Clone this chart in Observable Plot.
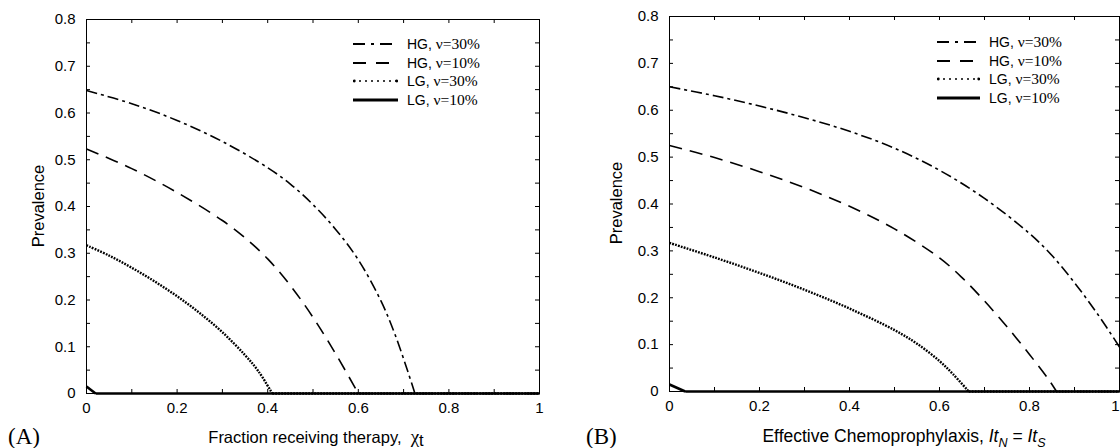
<!DOCTYPE html>
<html><head><meta charset="utf-8">
<script src="https://cdn.jsdelivr.net/npm/d3@7"></script>
<script src="https://cdn.jsdelivr.net/npm/@observablehq/plot@0.6"></script>
<style>
html,body{margin:0;padding:0;background:#fff;overflow:hidden}
#wrap{position:relative;width:1120px;height:448px;font-family:"Liberation Sans",Arial,sans-serif;color:#000}
.panel{position:absolute;top:0}
.panel svg{overflow:visible}
.panel svg text{font-size:15px !important;font-family:"Liberation Sans",Arial,sans-serif !important}
.abs{position:absolute;white-space:nowrap}
.serif{font-family:"Liberation Serif","Times New Roman",serif}
.leg{position:absolute;font-size:14px;line-height:18px}
.leg .row{position:absolute;left:0;height:18px;white-space:nowrap}
.leg svg{position:absolute;left:0;top:4px}
.leg .lab{position:absolute;top:0}
.ytitle{position:absolute;font-size:16.5px;transform:translate(-50%,-50%) rotate(-90deg)}
.xtitle{position:absolute;font-size:16.5px;transform:translate(-50%,-50%)}
.tag{position:absolute;font-size:23px;transform:translate(0,-50%)}
</style></head><body><div id="wrap"></div>
<script>
// ---------- data ----------
const xTickLabels = [0, 0.2, 0.4, 0.6, 0.8, 1];
const yTickLabels = [0, 0.1, 0.2, 0.3, 0.4, 0.5, 0.6, 0.7, 0.8];
const xMinorTicks = [0, 0.1, 0.2, 0.3, 0.4, 0.5, 0.6, 0.7, 0.8, 0.9, 1];
const yMinorTicks = [0, 0.05, 0.1, 0.15, 0.2, 0.25, 0.3, 0.35, 0.4, 0.45, 0.5, 0.55, 0.6, 0.65, 0.7, 0.75, 0.8];
const seriesNames = ["HG, |ν=30%", "HG, |ν=10%", "LG, |ν=30%", "LG, |ν=10%"];

// Panel A: Fraction receiving therapy
const xA_HG30 = [0, 0.1, 0.2, 0.3, 0.4, 0.45, 0.5, 0.55, 0.6, 0.65, 0.68, 0.71, 0.725, 1];
const yA_HG30 = [0.648, 0.620, 0.584, 0.539, 0.483, 0.448, 0.404, 0.351, 0.286, 0.198, 0.129, 0.045, 0, 0];
const xA_HG10 = [0, 0.1, 0.2, 0.3, 0.35, 0.4, 0.45, 0.5, 0.55, 0.6, 1];
const yA_HG10 = [0.523, 0.481, 0.430, 0.370, 0.333, 0.288, 0.231, 0.163, 0.085, 0, 0];
const xA_LG30 = [0, 0.05, 0.1, 0.15, 0.2, 0.25, 0.3, 0.35, 0.38, 0.41, 1];
const yA_LG30 = [0.317, 0.295, 0.269, 0.240, 0.208, 0.172, 0.131, 0.082, 0.047, 0, 0];
const xA_LG10 = [0, 0.02, 1];
const yA_LG10 = [0.015, 0, 0];

// Panel B: Effective chemoprophylaxis
const xB_HG30 = [0, 0.1, 0.2, 0.3, 0.4, 0.5, 0.6, 0.7, 0.8, 0.85, 0.9, 0.95, 1];
const yB_HG30 = [0.650, 0.631, 0.609, 0.584, 0.555, 0.519, 0.472, 0.412, 0.337, 0.290, 0.232, 0.167, 0.095];
const xB_HG10 = [0, 0.1, 0.2, 0.3, 0.4, 0.5, 0.6, 0.65, 0.7, 0.75, 0.8, 0.84, 0.86, 1];
const yB_HG10 = [0.525, 0.499, 0.469, 0.435, 0.395, 0.347, 0.285, 0.243, 0.193, 0.138, 0.079, 0.029, 0, 0];
const xB_LG30 = [0, 0.1, 0.2, 0.3, 0.4, 0.5, 0.55, 0.6, 0.63, 0.665, 1];
const yB_LG30 = [0.317, 0.286, 0.253, 0.217, 0.177, 0.131, 0.102, 0.065, 0.037, 0, 0];
const xB_LG10 = [0, 0.035, 1];
const yB_LG10 = [0.015, 0, 0];

// ---------- styles ----------
const styles = [
  {dash: "11,4,3,4", width: 1.6, legDash: "12,6,3,6"},
  {dash: "13,8", width: 1.6, legDash: "13,10"},
  {dash: "1.8,1.2", width: 2.4, legDash: "2,4"},
  {dash: null, width: 2.6, legDash: null}
];

const W = 560, H = 448;
const wrap = document.getElementById("wrap");

function toRows(xs, ys) { return xs.map((x, i) => ({x, y: ys[i]})); }
function splitSeries(rows) {
  const k = rows.findIndex(d => d.y === 0);
  if (k < 0) return [rows, []];
  return [rows.slice(0, k + 1), rows.slice(k)];
}

function panel(opt) {
  const {ml, mr, mt, mb, series, lastEnd} = opt;
  const ih = H - mt - mb, iw = W - ml - mr;
  const lineMarks = [];
  series.forEach((s, i) => {
    const st = styles[i];
    const [curvePart, tail] = splitSeries(toRows(s[0], s[1]));
    const common = {x: "x", y: "y", stroke: "#000", strokeWidth: st.width, strokeDasharray: st.dash, strokeLinecap: "butt"};
    lineMarks.push(Plot.line(curvePart, {...common, curve: curvePart.length > 3 ? "catmull-rom" : "linear"}));
    if (tail.length > 1) lineMarks.push(Plot.line(tail, {...common, curve: "linear"}));
  });
  const xLabs = lastEnd ? xTickLabels.slice(0, -1) : xTickLabels;
  const axes = [
    Plot.axisX(xLabs, {anchor: "bottom", tickSize: 0, tickPadding: 9, label: null, fontSize: 15, tickFormat: d => String(d)}),
    Plot.axisY(yTickLabels, {anchor: "left", tickSize: 0, tickPadding: 11, label: null, fontSize: 15, tickFormat: d => String(d)})
  ];
  if (lastEnd) axes.push(Plot.axisX(xTickLabels.slice(-1), {anchor: "bottom", tickSize: 0, tickPadding: 9, label: null, fontSize: 15, textAnchor: "end", tickFormat: d => String(d)}));
  return Plot.plot({
    width: W, height: H,
    marginLeft: ml, marginRight: mr, marginTop: mt, marginBottom: mb,
    x: {domain: [0, 1]},
    y: {domain: [0, 0.8]},
    style: {color: "#000", background: "transparent", overflow: "visible", fontSize: "15px"},
    marks: [
      Plot.tickX(xMinorTicks, {x: d => d, insetTop: ih - 4, stroke: "#000"}),
      Plot.tickX(xMinorTicks, {x: d => d, insetBottom: ih - 4, stroke: "#000"}),
      Plot.tickY(yMinorTicks, {y: d => d, insetRight: iw - 4, stroke: "#000"}),
      Plot.tickY(yMinorTicks, {y: d => d, insetLeft: iw - 4, stroke: "#000"}),
      ...axes,
      ...lineMarks,
      Plot.frame({stroke: "#000", strokeWidth: 1})
    ]
  });
}

function addPanel(left, opt) {
  const d = document.createElement("div");
  d.className = "panel";
  d.style.left = left + "px";
  d.appendChild(panel(opt));
  wrap.appendChild(d);
}

function addLegend(left, top, rowGap, sampleW, textLeft) {
  const leg = document.createElement("div");
  leg.className = "leg";
  leg.style.left = left + "px";
  leg.style.top = top + "px";
  seriesNames.forEach((name, i) => {
    const st = styles[i];
    const [a, b] = name.split("|");
    const row = document.createElement("div");
    row.className = "row";
    row.style.top = (i * rowGap) + "px";
    row.innerHTML =
      `<svg width="${sampleW}" height="10"><line x1="0" x2="${sampleW}" y1="5" y2="5" stroke="#000" stroke-width="${i === 3 ? 2.8 : (i === 2 ? 1.6 : 2.2)}" ${st.legDash ? `stroke-dasharray="${st.legDash}"` : ""}/>${i === 2 ? `<circle cx="1.3" cy="5" r="1.4"/><circle cx="${sampleW - 1.3}" cy="5" r="1.4"/>` : ""}</svg>` +
      `<span class="lab" style="left:${textLeft}px">${a}<span class="serif" style="font-size:15.5px">${b}</span></span>`;
    leg.appendChild(row);
  });
  wrap.appendChild(leg);
}

function addText(cls, html, x, y, size) {
  const t = document.createElement("div");
  t.className = "abs " + cls;
  t.innerHTML = html;
  t.style.left = x + "px";
  t.style.top = y + "px";
  if (size) t.style.fontSize = size + "px";
  wrap.appendChild(t);
}

// Panel A
addPanel(0, {ml: 86, mr: 21, mt: 19, mb: 55,
  series: [[xA_HG30, yA_HG30], [xA_HG10, yA_HG10], [xA_LG30, yA_LG30], [xA_LG10, yA_LG10]]});
// Panel B
addPanel(560, {ml: 109, mr: 1, mt: 16, mb: 57, lastEnd: true,
  series: [[xB_HG30, yB_HG30], [xB_HG10, yB_HG10], [xB_LG30, yB_LG30], [xB_LG10, yB_LG10]]});

addLegend(353, 35, 18.5, 45, 54);
addLegend(937, 33, 18.5, 43, 52);

addText("ytitle", "Prevalence", 38, 206);
addText("ytitle", "Prevalence", 616, 203);
addText("xtitle", 'Fraction receiving therapy, &nbsp;<span class="serif" style="font-size:19px">χ</span><span style="position:relative;top:3px">t</span>', 316, 437);
addText("xtitle", 'Effective Chemoprophylaxis, <i>It</i><sub style="font-size:12.5px"><i>N</i></sub> = <i>It</i><sub style="font-size:12.5px"><i>S</i></sub>', 904, 438, 17.5);
addText("tag serif", "(A)", 8, 437);
addText("tag serif", "(B)", 586, 437);
</script></body></html>
